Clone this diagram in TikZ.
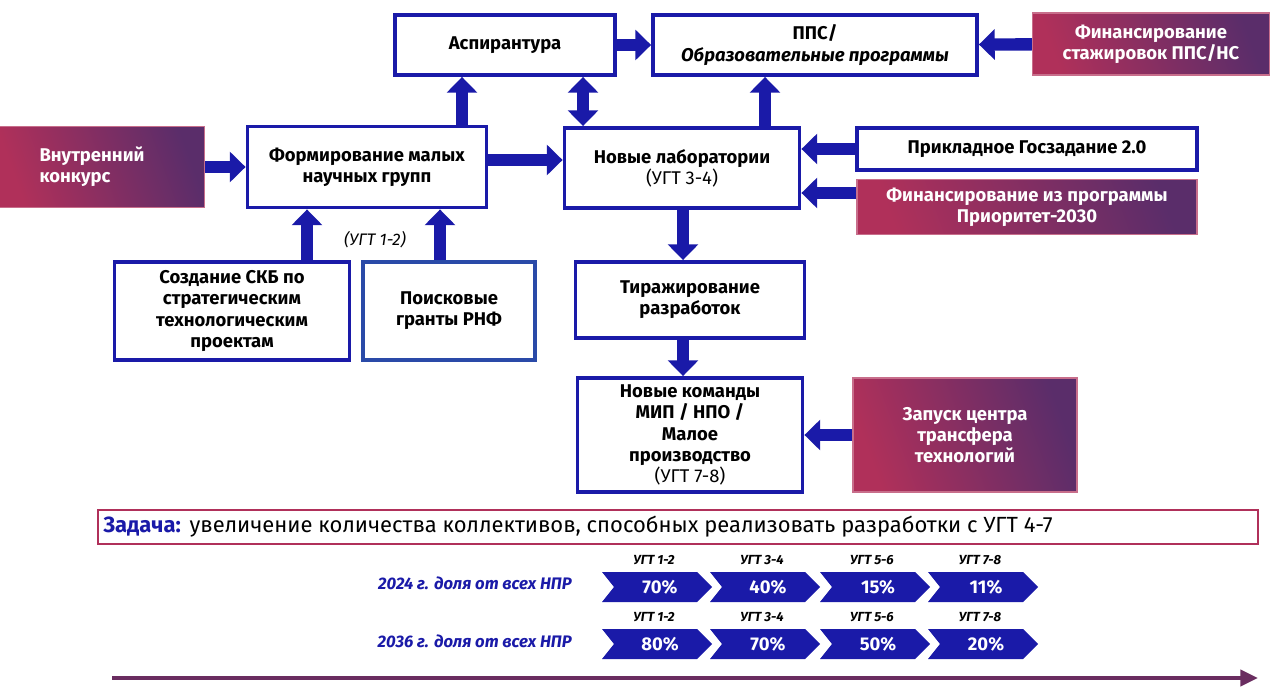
\documentclass[tikz,border=0pt]{standalone}
\usepackage{fontspec}
\setmainfont{Fira Sans}
\usetikzlibrary{arrows.meta,positioning}
\definecolor{navy}{HTML}{1A1AA8}
\definecolor{gridblue}{HTML}{2A4AA8}
\definecolor{crimson}{HTML}{B0305A}
\definecolor{plum}{HTML}{5A2D6A}
\definecolor{timeline}{HTML}{6A2D60}
\tikzset{
  box/.style={draw=navy, line width=2.2pt, fill=white, align=center, font=\bfseries\fontsize{10.5}{12}\selectfont, inner sep=2pt},
  fund/.style={draw=crimson!70, line width=0.8pt, left color=crimson, right color=plum, shading angle=110, text=white, align=center, font=\bfseries\fontsize{10.5}{12}\selectfont},
  arr/.style={draw=navy, line width=7pt, -{Triangle[width=17pt,length=9pt]}},
  darr/.style={draw=navy, line width=7pt, {Triangle[width=17pt,length=9pt]}-{Triangle[width=17pt,length=9pt]}},
  chev/.style={fill=navy},
  ugt/.style={font=\bfseries\itshape\fontsize{7.5}{9}\selectfont},
  pct/.style={text=white, font=\bfseries\fontsize{10.5}{12}\selectfont},
  year/.style={text=navy, anchor=east, font=\bfseries\itshape\fontsize{9.5}{11}\selectfont}
}
\newcommand{\chevron}[3]{% x0, y-centre, text
  \fill[chev] (#1,#2-15) -- (#1+95,#2-15) -- (#1+110,#2) -- (#1+95,#2+15) -- (#1,#2+15) -- (#1+12,#2) -- cycle;
  \node[pct] at (#1+58,#2) {#3};}
\begin{document}
\begin{tikzpicture}[x=0.02cm, y=-0.02cm]
\useasboundingbox (0,0) rectangle (1280,695);

% top row
\node[box, minimum width=4.4cm, minimum height=1.2cm] (asp) at (505,45) {Аспирантура};
\node[box, minimum width=6.48cm, minimum height=1.2cm] (pps) at (815,45) {ППС/\\\itshape Образовательные программы};
\node[fund, minimum width=4.74cm, minimum height=1.24cm] (stazh) at (1151,44) {Финансирование\\стажировок ППС/НС};

% middle row
\node[fund, minimum width=4.1cm, minimum height=1.62cm, align=left, text width=2.5cm] (vnutr) at (102,167) {Внутренний\\конкурс};
\node[box, minimum width=4.78cm, minimum height=1.62cm] (form) at (367,167) {Формирование малых\\научных групп};
\node[box, minimum width=4.7cm, minimum height=1.6cm] (lab) at (682,168) {Новые лаборатории\\\mdseries(УГТ 3-4)};
\node[box, minimum width=6.8cm, minimum height=0.84cm] (prikl) at (1027,149) {Прикладное Госзадание 2.0};
\node[fund, minimum width=6.8cm, minimum height=1.1cm] (prior) at (1027,207) {Финансирование из программы\\Приоритет-2030};

% lower blocks
\node[box, minimum width=4.7cm, minimum height=1.96cm] (skb) at (232,311) {Создание СКБ по\\стратегическим\\технологическим\\проектам};
\node[box, draw=gridblue, minimum width=3.44cm, minimum height=1.96cm] (rnf) at (449,311) {Поисковые\\гранты РНФ};
\node[font=\itshape\fontsize{9.5}{11}\selectfont] (ugt12) at (375,240) {(УГТ 1-2)};
\node[box, minimum width=4.58cm, minimum height=1.52cm] (tirazh) at (690,300) {Тиражирование\\разработок};
\node[box, minimum width=4.5cm, minimum height=2.28cm] (komand) at (690,435) {Новые команды\\МИП / НПО /\\Малое\\производство\\\mdseries(УГТ 7-8)};
\node[fund, minimum width=4.48cm, minimum height=2.28cm] (transf) at (965,435) {Запуск центра\\трансфера\\технологий};

% connectors
\draw[arr] (asp) -- (pps);
\draw[arr] (stazh) -- (pps);
\draw[arr] (vnutr) -- (form);
\draw[arr] (form.east |- 0,160) -- (lab.west |- 0,160);
\draw[arr] (form.north -| 462,0) -- (asp.south -| 462,0);
\draw[darr] (lab.north -| 583,0) -- (asp.south -| 583,0);
\draw[arr] (lab.north -| 765,0) -- (pps.south -| 765,0);
\draw[arr] (prikl.west) -- (lab.east |- prikl.west);
\draw[arr] (prior.west |- 0,193) -- (lab.east |- 0,193);
\draw[arr] (skb.north -| 307,0) -- (form.south -| 307,0);
\draw[arr] (rnf.north -| 440,0) -- (form.south -| 440,0);
\draw[arr] (lab.south -| 683,0) -- (tirazh.north -| 683,0);
\draw[arr] (tirazh.south -| 683,0) -- (komand.north -| 683,0);
\draw[arr] (transf) -- (komand);

% task line
\node[draw=crimson, line width=1.2pt, minimum height=0.68cm, text width=23.0cm, align=left, anchor=west, inner sep=3pt] (task) at (97,527)
  {\fontsize{12.5}{14}\selectfont\textcolor{navy}{\bfseries Задача:} увеличение количества коллективов, способных реализовать разработки с УГТ 4-7};

% shares
\node[year] (y24) at (578,583) {2024 г. доля от всех НПР};
\node[year] (y36) at (578,641) {2036 г. доля от всех НПР};
\foreach \x/\u/\a/\b in {602/1-2/70/80, 710/3-4/40/70, 820/5-6/15/50, 928/7-8/11/20} {
  \node[ugt] at (\x+52,560) {УГТ \u};
  \node[ugt] at (\x+52,617) {УГТ \u};
  \chevron{\x}{587}{\a\%}
  \chevron{\x}{644}{\b\%}
}

% time axis
\coordinate (t0) at (112,678);
\coordinate (t1) at (1258,678);
\draw[timeline, line width=2.5pt, -{Triangle[width=9pt,length=10pt]}] (t0) -- (t1);
\end{tikzpicture}
\end{document}
